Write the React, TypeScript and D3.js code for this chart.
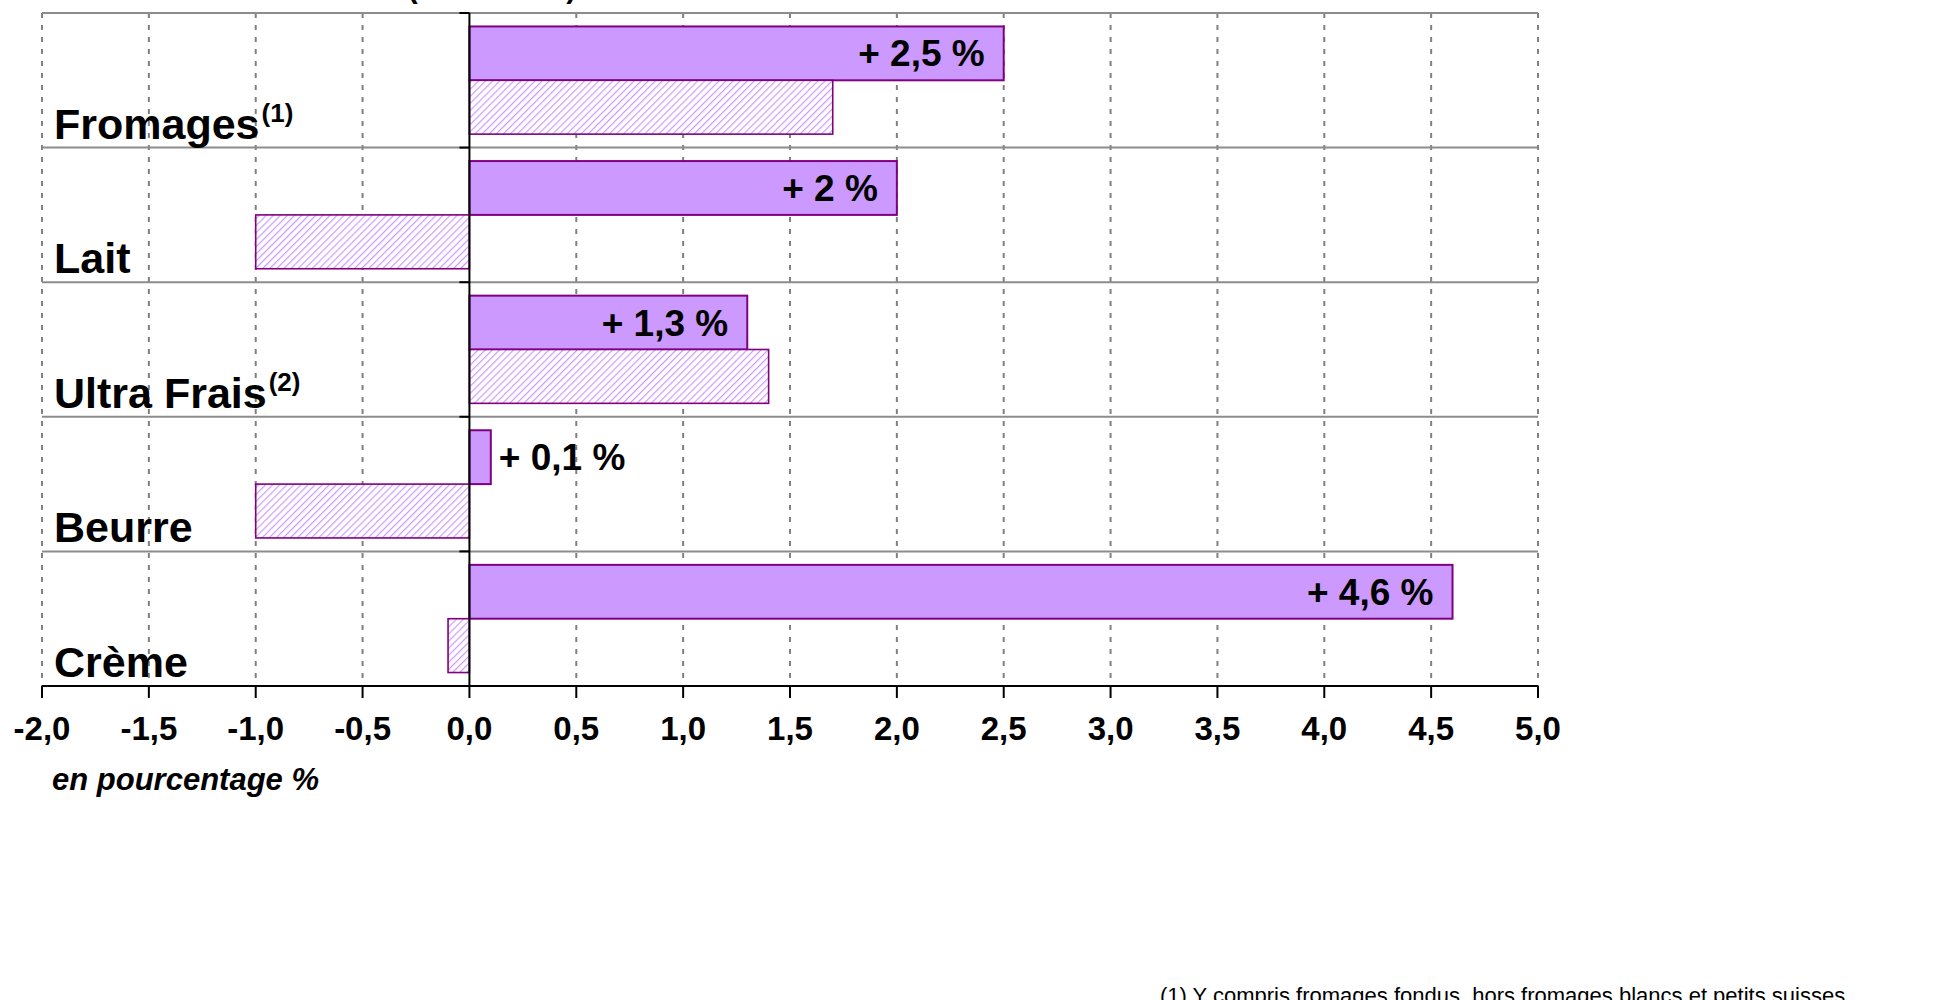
import React from "react";
import * as d3 from "d3";

const categories = ["Fromages", "Lait", "Ultra Frais", "Beurre", "Crème"];
const superscripts = ["(1)", "", "(2)", "", ""];
const seriesSolid = [2.5, 2.0, 1.3, 0.1, 4.6];
const seriesHatched = [1.7, -1.0, 1.4, -1.0, -0.1];
const solidLabels = ["+ 2,5 %", "+ 2 %", "+ 1,3 %", "+ 0,1 %", "+ 4,6 %"];
const labelInside = [true, true, true, false, true];
const xTicks = [-2, -1.5, -1, -0.5, 0, 0.5, 1, 1.5, 2, 2.5, 3, 3.5, 4, 4.5, 5];
const seriesKeys = ["solid", "hatched"];

const W = 1951;
const H = 1000;
const FONT = "Arial, 'Liberation Sans', sans-serif";

export default function App() {
  const x = d3.scaleLinear().domain([-2, 5]).range([42, 1538]);
  const y = d3.scaleBand<string>().domain(categories).range([13, 686]).paddingInner(0.2).paddingOuter(0.1);
  const ys = d3.scaleBand<string>().domain(seriesKeys).range([0, y.bandwidth()]).padding(0);
  const step = y.step();
  const bandTop = (c: string) => (y(c) as number) - step * 0.1;
  const fmt = (v: number) => d3.format(".1f")(v).replace(".", ",").replace("\u2212", "-");
  const x0 = x(0);

  return (
    <svg width={W} height={H} style={{ position: "absolute", left: 0, top: 0, background: "#fff" }} fontFamily={FONT}>
      <defs>
        <pattern id="hatch" patternUnits="userSpaceOnUse" width="5" height="5" patternTransform="rotate(45)">
          <rect width="5" height="5" fill="#fff" />
          <line x1="0" y1="0" x2="0" y2="5" stroke="#CC99FF" strokeWidth="2.4" />
        </pattern>
      </defs>
      <rect width={W} height={H} fill="#fff" />

      {/* clipped title remnant */}
      <text x={492} y={-2} fontSize={30} fontWeight="bold" textAnchor="middle" fill="#000">(en volume)</text>

      {/* vertical dashed gridlines */}
      {xTicks.filter((t) => t !== 0).map((t) => (
        <line key={"g" + t} x1={x(t)} x2={x(t)} y1={13} y2={686} stroke="#808080" strokeWidth={2} strokeDasharray="5 7" />
      ))}

      {/* horizontal band lines */}
      {categories.map((c) => (
        <line key={"h" + c} x1={x(-2)} x2={x(5)} y1={bandTop(c)} y2={bandTop(c)} stroke="#8c8c8c" strokeWidth={2} />
      ))}

      {/* bars */}
      {categories.map((c, i) => {
        const yb = y(c) as number;
        const vs = seriesSolid[i];
        const vh = seriesHatched[i];
        return (
          <g key={"b" + c}>
            <rect x={Math.min(x(vs), x0)} y={yb + (ys("solid") as number)} width={Math.abs(x(vs) - x0)} height={ys.bandwidth()}
              fill="#CC99FF" stroke="#800080" strokeWidth={2} />
            <rect x={Math.min(x(vh), x0)} y={yb + (ys("hatched") as number)} width={Math.abs(x(vh) - x0)} height={ys.bandwidth()}
              fill="url(#hatch)" stroke="#800080" strokeWidth={1.6} />
          </g>
        );
      })}

      {/* value labels */}
      {categories.map((c, i) => {
        const yb = (y(c) as number) + (ys("solid") as number) + ys.bandwidth() / 2 + 13;
        const inside = labelInside[i];
        return (
          <text key={"l" + c} x={inside ? x(seriesSolid[i]) - 19 : x(seriesSolid[i]) + 8} y={yb}
            textAnchor={inside ? "end" : "start"} fontSize={37} fontWeight="bold" fill="#000">{solidLabels[i]}</text>
        );
      })}

      {/* category labels */}
      {categories.map((c, i) => (
        <text key={"c" + c} x={54} y={bandTop(c) + step - 9} fontSize={43} fontWeight="bold" fill="#000">
          {c}
          {superscripts[i] && <tspan fontSize={26} dy={-17} dx={2}>{superscripts[i]}</tspan>}
        </text>
      ))}

      {/* y axis */}
      <line x1={x0} x2={x0} y1={13} y2={686} stroke="#000" strokeWidth={2} />
      {categories.map((c) => (
        <line key={"yt" + c} x1={x0 - 10} x2={x0} y1={bandTop(c)} y2={bandTop(c)} stroke="#000" strokeWidth={2} />
      ))}

      {/* x axis */}
      <line x1={x(-2)} x2={x(5)} y1={686} y2={686} stroke="#000" strokeWidth={2} />
      {xTicks.map((t) => (
        <g key={"xt" + t}>
          <line x1={x(t)} x2={x(t)} y1={686} y2={698} stroke="#000" strokeWidth={2} />
          <text x={x(t)} y={740} textAnchor="middle" fontSize={33} fontWeight="bold" fill="#000">{fmt(t)}</text>
        </g>
      ))}

      <text x={52} y={790} fontSize={31} fontWeight="bold" fontStyle="italic" fill="#000">en pourcentage %</text>

      <text x={1160} y={1003} fontSize={22} fill="#000">(1) Y compris fromages fondus, hors fromages blancs et petits suisses</text>
    </svg>
  );
}
